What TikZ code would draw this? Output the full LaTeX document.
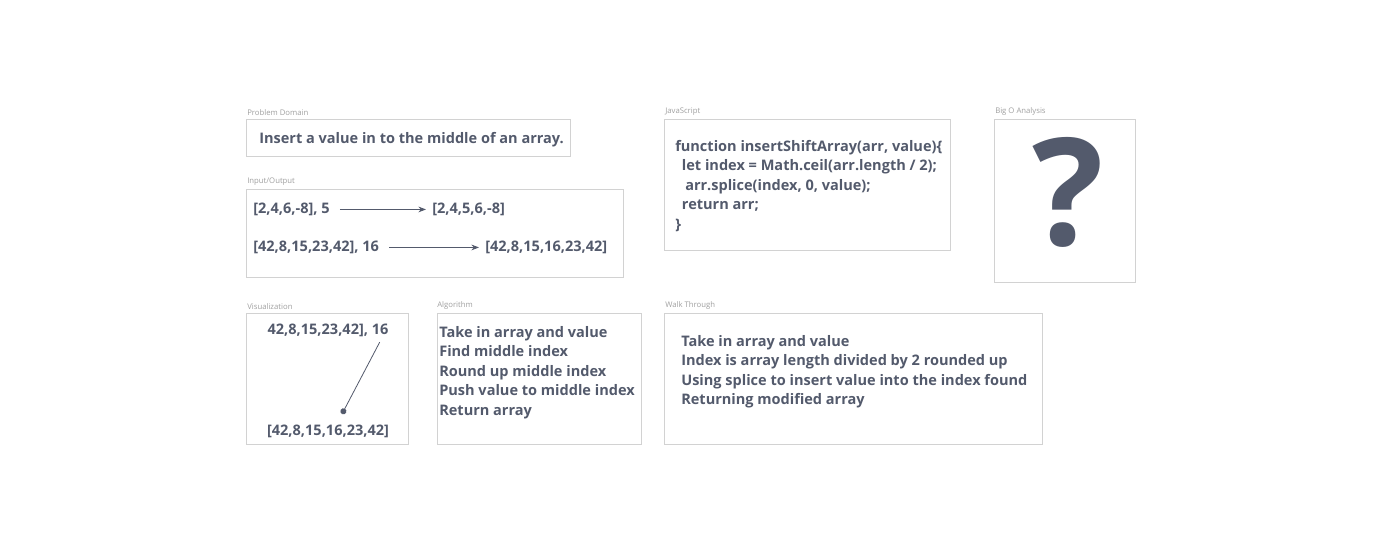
\documentclass[tikz,border=0pt]{standalone}
\usepackage{fontspec}
\setmainfont{Open Sans}
\usetikzlibrary{arrows.meta,shadows}
\definecolor{inkgray}{HTML}{535A6C}
\definecolor{framegray}{HTML}{D2D2D2}
\definecolor{capgray}{HTML}{A0A0A0}

\begin{document}
\begin{tikzpicture}[x=0.75pt,y=-0.75pt,>=Stealth,
  every node/.style={inner sep=0pt,text=inkgray},
  panel/.style={draw=framegray,fill=white,line width=0.6pt,
    drop shadow={opacity=0.12,shadow xshift=0.6pt,shadow yshift=-0.9pt}},
  caption/.style={anchor=base west,text=capgray,font=\fontsize{5.8}{6}\selectfont},
  body/.style={anchor=mid west,font=\fontsize{10.9}{14.6}\selectfont\bfseries,align=left},
  flow/.style={->,draw=inkgray,line width=0.6pt}]
  \useasboundingbox[fill=white] (0,0) rectangle (1381,541);

  % panels
  \draw[panel] (246,119) rectangle (570,156);
  \draw[panel] (246,189) rectangle (623,277);
  \draw[panel] (664,119) rectangle (950,250);
  \draw[panel] (994,119) rectangle (1135,282);
  \draw[panel] (246,313) rectangle (408,444);
  \draw[panel] (437,313) rectangle (641,444);
  \draw[panel] (664,313) rectangle (1042,444);

  \node[caption] (cappd) at (247,116) {Problem Domain};
  \node[caption] (capio) at (247,184) {Input/Output};
  \node[caption] (capjs) at (665,114) {JavaScript};
  \node[caption] (capbo) at (995,114) {Big O Analysis};
  \node[caption] (capvz) at (247,310) {Visualization};
  \node[caption] (capal) at (437,308) {Algorithm};
  \node[caption] (capwt) at (665,308) {Walk Through};

  % problem domain
  \node[body] (pdtext) at (259,139.5) {Insert a value in to the middle of an array.};

  % input / output
  \node[body] (in1) at (253,210) {[2,4,6,-8], 5};
  \node[body] (out1) at (432,210) {[2,4,5,6,-8]};
  \node[body] (in2) at (253,248) {[42,8,15,23,42], 16};
  \node[body] (out2) at (485,248) {[42,8,15,16,23,42]};
  \draw[flow] ([xshift=7.5pt]in1.east) -- ([xshift=-4.5pt]out1.west);
  \draw[flow] ([xshift=7.5pt]in2.east) -- ([xshift=-4.5pt]out2.west);

  % javascript
  \node[body,anchor=north west] (code) at (675,140) {function insertShiftArray(arr, value)\{\\
    \hspace*{5pt}let index = Math.ceil(arr.length / 2);\\
    \hspace*{7.5pt}arr.splice(index, 0, value);\\
    \hspace*{5pt}return arr;\\
    \}};

  % big o
  \node[font=\fontsize{112}{112}\selectfont\bfseries] (qmark) at (1068,192) {?};

  % visualization
  \node[body,anchor=mid] (vtop) at (328,331) {42,8,15,23,42], 16};
  \node[body,anchor=mid] (vbot) at (328,432) {[42,8,15,16,23,42]};
  \coordinate (pin) at (342,414);
  \draw[draw=inkgray,line width=0.6pt,-{Circle[length=4.5pt]}] ([shift={(-9,5)}]vtop.south east) -- (pin);

  % algorithm
  \node[body,anchor=north west] (algo) at (439,326) {Take in array and value\\
    Find middle index\\
    Round up middle index\\
    Push value to middle index\\
    Return array};

  % walk through
  \node[body,anchor=north west] (walk) at (681,335) {Take in array and value\\
    Index is array length divided by 2 rounded up\\
    Using splice to insert value into the index found\\
    Returning modified array};
\end{tikzpicture}
\end{document}
